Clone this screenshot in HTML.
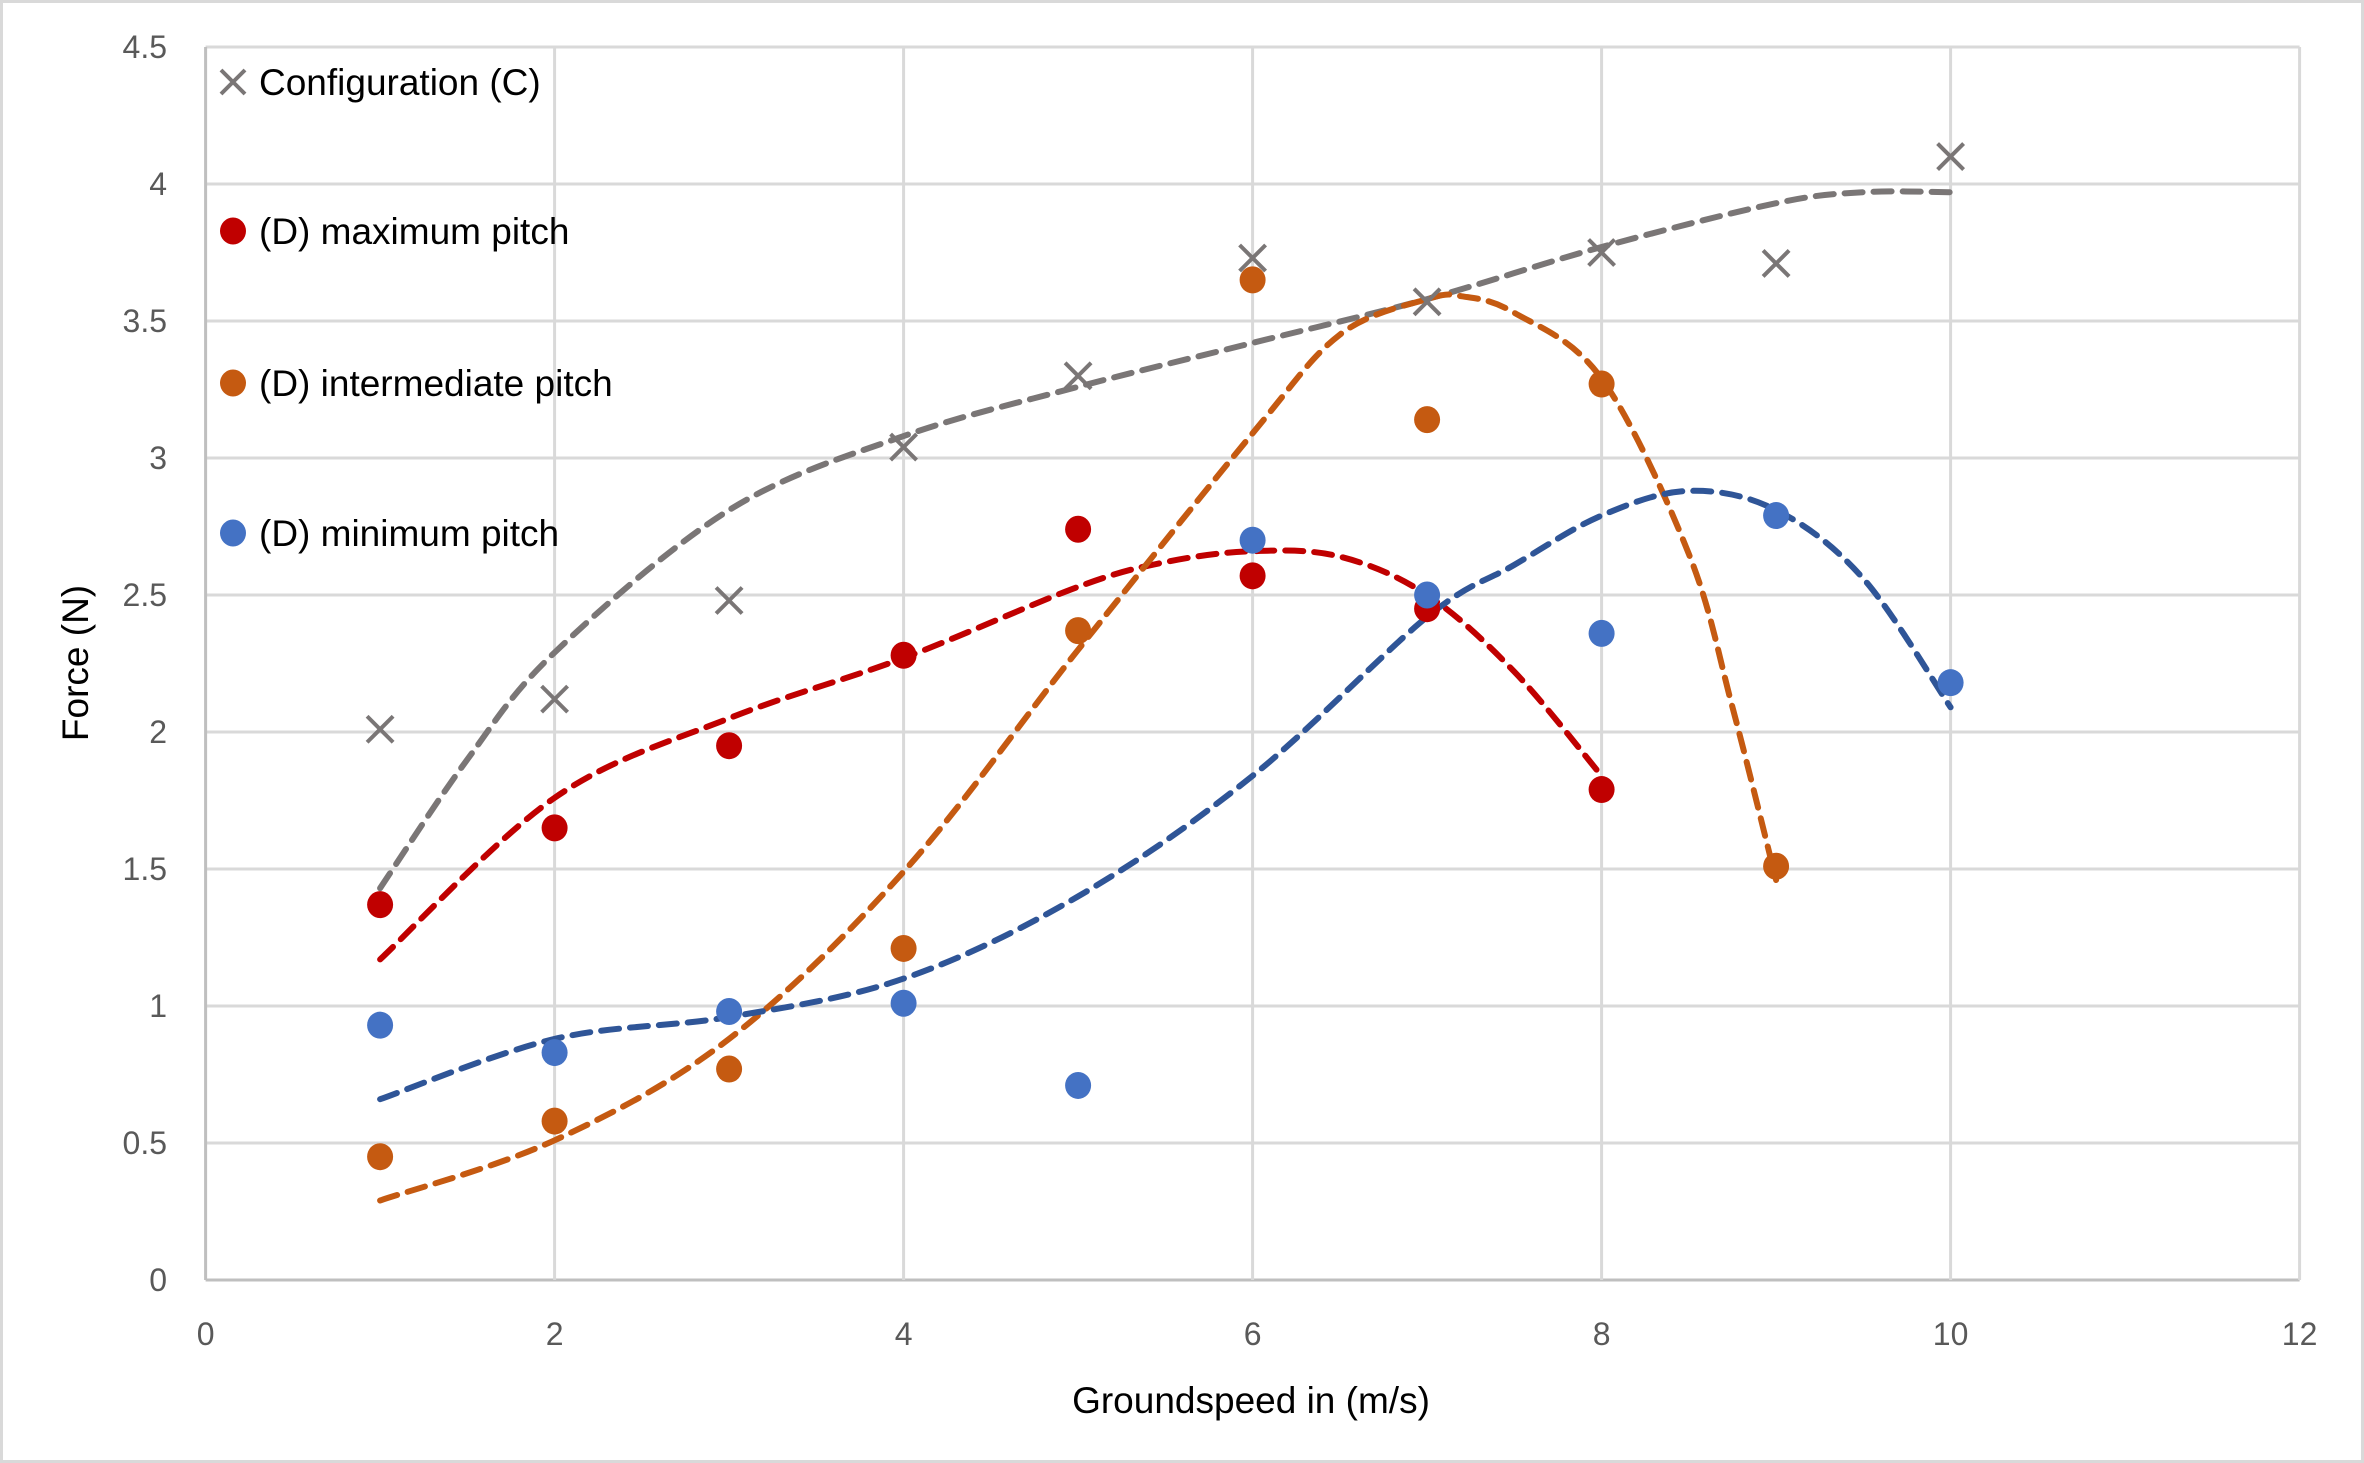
<!DOCTYPE html>
<html><head><meta charset="utf-8"><style>
html,body{margin:0;padding:0;background:#fff}
svg{display:block}
text{font-family:"Liberation Sans",sans-serif}
</style></head><body>
<svg id="chart" width="2364" height="1463" viewBox="0 0 2364 1463">
<rect x="1.5" y="1.5" width="2361" height="1460" fill="#fff" stroke="#d9d9d9" stroke-width="3"/>
<g id="grid"></g>
<g id="ticks"></g>
<g id="trends"></g>
<g id="marks"></g>
<text x="1251" y="1413" font-size="37" fill="#000" text-anchor="middle">Groundspeed in (m/s)</text>
<text x="0" y="0" font-size="37" fill="#000" text-anchor="middle" transform="translate(88,663) rotate(-90)">Force (N)</text>
<g id="legend"></g>
</svg>
<script>
const xTicks=[0,2,4,6,8,10,12];
const yTicks=[0,0.5,1,1.5,2,2.5,3,3.5,4,4.5];
const configX=[1,2,3,4,5,6,7,8,9,10];
const configY=[2.01,2.12,2.48,3.04,3.30,3.73,3.57,3.75,3.71,4.10];
const maxX=[1,2,3,4,5,6,7,8];
const maxY=[1.37,1.65,1.95,2.28,2.74,2.57,2.45,1.79];
const midX=[1,2,3,4,5,6,7,8,9];
const midY=[0.45,0.58,0.77,1.21,2.37,3.65,3.14,3.27,1.51];
const minX=[1,2,3,4,5,6,7,8,9,10];
const minY=[0.93,0.83,0.98,1.01,0.71,2.70,2.50,2.36,2.79,2.18];
// trendline values
const configTrendX=[1,1.5,2,3,4,5,6,7,8,9,9.5,10];
const configTrendY=[1.43,1.9,2.29,2.81,3.08,3.26,3.42,3.58,3.77,3.93,3.97,3.97];
const maxTrendX=[1,2,3,4,5,5.5,6,6.5,7,7.5,8];
const maxTrendY=[1.17,1.76,2.05,2.27,2.53,2.62,2.66,2.64,2.50,2.22,1.84];
const midTrendX=[1,2,3,4,5,6,6.5,7,7.2,7.5,8,8.5,8.75,9];
const midTrendY=[0.29,0.51,0.88,1.49,2.30,3.09,3.45,3.58,3.59,3.53,3.29,2.65,2.09,1.46];
const minTrendX=[1,2,3,4,5,6,7,7.5,8,8.5,9,9.5,10];
const minTrendY=[0.66,0.88,0.96,1.10,1.40,1.84,2.42,2.61,2.79,2.88,2.81,2.56,2.09];
const NS="http://www.w3.org/2000/svg";
const X0=205.6,XU=174.5,Y0=1280,YU=274;
function sx(v){return X0+v*XU}
function sy(v){return Y0-v*YU}
function el(t,a,p){const e=document.createElementNS(NS,t);for(const k in a)e.setAttribute(k,a[k]);p.appendChild(e);return e}
const grid=document.getElementById('grid'),ticks=document.getElementById('ticks');
yTicks.forEach(v=>{
 const l=el('line',{x1:sx(0),x2:sx(12),y1:sy(v),y2:sy(v),stroke:v===0?'#bfbfbf':'#d9d9d9','stroke-width':3},grid);
 
 
 const t=el('text',{x:167,y:sy(v)+11,'font-size':32,fill:'#595959','text-anchor':'end'},ticks);
 t.textContent=String(v);
 
 
});
xTicks.forEach(v=>{
 const l=el('line',{x1:sx(v),x2:sx(v),y1:sy(0),y2:sy(4.5),stroke:v===0?'#bfbfbf':'#d9d9d9','stroke-width':3},grid);
 
 
 const t=el('text',{x:sx(v),y:1345,'font-size':32,fill:'#595959','text-anchor':'middle'},ticks);
 t.textContent=String(v);
 
 
});
const trends=document.getElementById('trends'),marks=document.getElementById('marks');
function trend(xs,ys,color,name){
 const P=xs.map((x,i)=>[sx(x),sy(ys[i])]);
 let d='M'+P[0][0].toFixed(1)+','+P[0][1].toFixed(1);
 for(let i=0;i<P.length-1;i++){
  const p0=P[i>0?i-1:i],p1=P[i],p2=P[i+1],p3=P[i+2<P.length?i+2:i+1];
  const c1=[p1[0]+(p2[0]-p0[0])/6,p1[1]+(p2[1]-p0[1])/6],c2=[p2[0]-(p3[0]-p1[0])/6,p2[1]-(p3[1]-p1[1])/6];
  d+=`C${c1[0].toFixed(1)},${c1[1].toFixed(1)} ${c2[0].toFixed(1)},${c2[1].toFixed(1)} ${p2[0].toFixed(1)},${p2[1].toFixed(1)}`;
 }
 const p=el('path',{d:d,fill:'none',stroke:color,'stroke-width':6,'stroke-dasharray':'18 11','stroke-linecap':'round'},trends);
 
 
}
trend(configTrendX,configTrendY,'#7a7676','config-trendline');
trend(maxTrendX,maxTrendY,'#c00000','max-pitch-trendline');
trend(midTrendX,midTrendY,'#c55a11','intermediate-pitch-trendline');
trend(minTrendX,minTrendY,'#2f5597','min-pitch-trendline');
function dots(xs,ys,color,name){xs.forEach((x,i)=>{const c=el('ellipse',{cx:sx(x),cy:sy(ys[i]),rx:13,ry:13.5,fill:color},marks);
 
 });}
dots(maxX,maxY,'#c00000','max-pitch-point');
dots(midX,midY,'#c55a11','intermediate-pitch-point');
dots(minX,minY,'#4472c4','min-pitch-point');
configX.forEach((x,i)=>{const cx=sx(x),cy=sy(configY[i]),s=13;
 const p=el('path',{d:`M${cx-s},${cy-s}L${cx+s},${cy+s}M${cx-s},${cy+s}L${cx+s},${cy-s}`,stroke:'#7a7676','stroke-width':4,fill:'none'},marks);
 
 });
const legend=document.getElementById('legend');
const legLabels=['Configuration (C)','(D) maximum pitch','(D) intermediate pitch','(D) minimum pitch'];
const legColors=['#7a7676','#c00000','#c55a11','#4472c4'];
const legY=[82,231,383,533];
legLabels.forEach((lab,i)=>{
 const g=el('g',{},legend);
 
 
 if(i===0){el('path',{d:`M221,70L245,94M221,94L245,70`,stroke:legColors[0],'stroke-width':4},g);}
 else el('ellipse',{cx:233,cy:legY[i],rx:13,ry:13.5,fill:legColors[i]},g);
 const t=el('text',{x:259,y:legY[i]+13,'font-size':37,fill:'#000'},g);t.textContent=lab;
});
</script>
</body></html>
